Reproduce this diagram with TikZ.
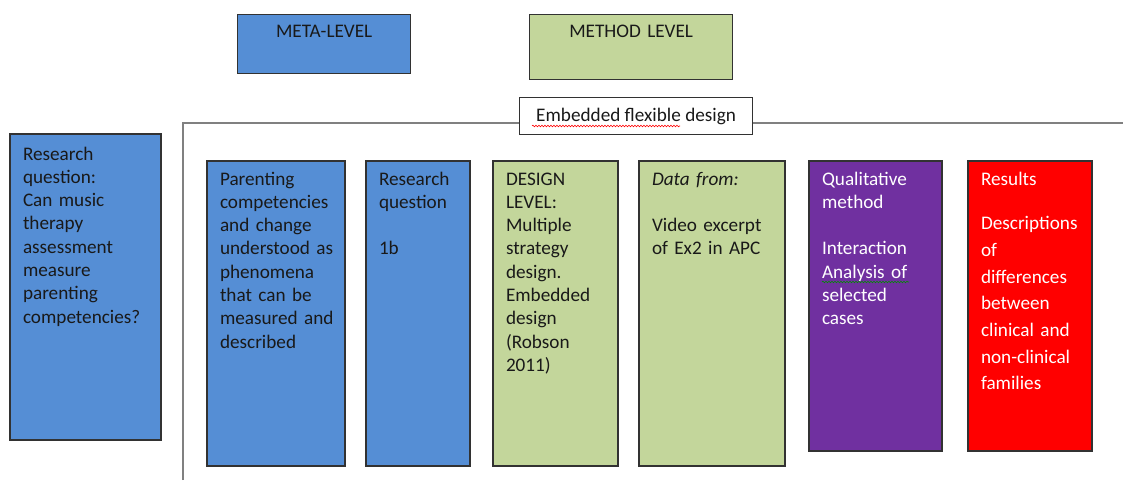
\documentclass[tikz,border=0pt]{standalone}
\usepackage{fontspec}
\setmainfont{Carlito}
\usetikzlibrary{positioning,decorations.pathmorphing}

\definecolor{metablue}{RGB}{85,142,213}
\definecolor{methodgreen}{RGB}{195,214,155}
\definecolor{qualpurple}{RGB}{112,48,160}
\definecolor{resultred}{RGB}{255,0,0}
\definecolor{edgegray}{RGB}{50,50,50}
\definecolor{framegray}{RGB}{128,128,128}

\newcommand{\bodyfont}{\fontsize{19.2pt}{23.3pt}\selectfont}

\begin{document}
\begin{tikzpicture}[
      x=1pt, y=-1pt,
      nodes={font=\bodyfont, text=black!90},
      colbox/.style={draw=edgegray, line width=1.4pt, anchor=north west, outer sep=0pt,
        inner xsep=13pt, inner ysep=0pt, align=left, text height=24pt},
      toplabel/.style={draw=edgegray, line width=1.4pt, anchor=north west,
        inner sep=0pt, align=center, text height=23pt},
      frameline/.style={draw=framegray, line width=2pt},
      squiggle/.style={decorate, line width=0.6pt,
        decoration={snake, amplitude=0.8pt, segment length=3pt}}
      ]
  \useasboundingbox (0,0) rectangle (1123,480);

  % level headings
  \node[toplabel, fill=metablue, text width=173pt, text depth=36pt] (meta) at (237,14) {META-LEVEL};
  \node[toplabel, fill=methodgreen, text width=203pt, text depth=42pt] (method) at (529,14) {METHOD LEVEL};

  % main question
  \node[colbox, fill=metablue, text width=125pt, text height=26pt, text depth=280pt] (rq) at (10,134)
    {Research\\ question:\\ Can~music\\ therapy\\ assessment\\ measure\\ parenting\\ competencies?};

  % frame of the embedded design
  \coordinate (fbl) at (183,480);
  \coordinate (ftl) at (183,123);
  \coordinate (ftr) at (1123,123);
  \draw[frameline] (fbl) -- (ftl) -- (ftr);
  \node[draw=edgegray, line width=1.2pt, fill=white, anchor=north west, inner sep=0pt,
        minimum width=233pt, minimum height=37pt] (emb) at (519,97) {Embedded flexible design};

  % row of steps
  \node[colbox, fill=metablue, text width=112pt, text depth=281pt] (pc) at (207,161)
    {Parenting\\ competencies\\ and~change\\ understood~as\\ phenomena\\ that~can~be\\ measured~and\\ described};
  \node[colbox, fill=metablue, text width=78pt, text depth=281pt,
        right=21pt of pc.north east, anchor=north west] (rq1b)
    {Research\\ question\\[23.3pt] 1b};
  \node[colbox, fill=methodgreen, text width=99pt, text depth=281pt,
        right=23pt of rq1b.north east, anchor=north west] (dl)
    {DESIGN\\ LEVEL:\\ Multiple\\ strategy\\ design.\\ Embedded\\ design\\ (Robson\\ 2011)};
  \node[colbox, fill=methodgreen, text width=120pt, text depth=281pt,
        right=21pt of dl.north east, anchor=north west] (data)
    {\textit{Data from:}\\[23.3pt] Video~excerpt\\ of~Ex2~in~APC};
  \node[colbox, fill=qualpurple, text=white, text width=107pt, text depth=266pt,
        right=24pt of data.north east, anchor=north west] (qm)
    {Qualitative\\ method\\[23.3pt] Interaction\\ Analysis~of\\ selected\\ cases};
  \node[colbox, fill=resultred, text=white, text width=98pt, text depth=266pt,
        font={\fontsize{19.2pt}{26.7pt}\selectfont},
        right=26pt of qm.north east, anchor=north west] (res)
    {Results\\[18pt] Descriptions\\ of\\ differences\\ between\\ clinical~and\\ non-clinical\\ families};

  % spelling marks
  \draw[squiggle, red] ([shift={(13pt,-29pt)}]emb.north west) -- ([shift={(161pt,-29pt)}]emb.north west);
  \draw[squiggle, green!55!black] ([shift={(13pt,-121pt)}]qm.north west) -- ([shift={(100pt,-121pt)}]qm.north west);

\end{tikzpicture}
\end{document}
